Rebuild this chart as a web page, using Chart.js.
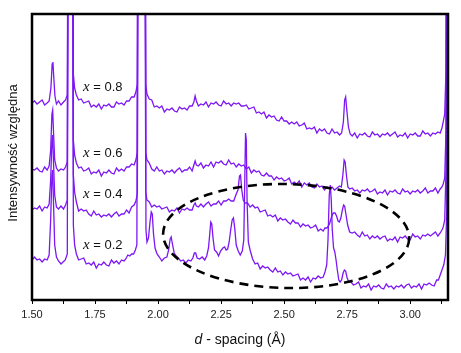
<!DOCTYPE html>
<html><head><meta charset="utf-8">
<script src="https://cdn.jsdelivr.net/npm/chart.js@4"></script>
<style>html,body{margin:0;padding:0;background:#fff}canvas{display:block}</style>
</head><body>
<canvas id="c" width="461" height="353"></canvas>
<script>
// d-spacing (Å) vs relative intensity (arbitrary units, stacked traces)
const seriesNames = ['x = 0.8', 'x = 0.6', 'x = 0.4', 'x = 0.2'];
const tickLabels = ['1.50', '1.75', '2.00', '2.25', '2.50', '2.75', '3.00'];

const trace08 = [[1.500,197],[1.510,199],[1.520,196],[1.530,198],[1.540,200],[1.550,195],[1.560,197],[1.568,199],[1.575,212],[1.580,236],[1.583,238],[1.586,224],[1.591,204],[1.597,196],[1.605,199],[1.615,195],[1.625,198],[1.633,200],[1.640,205],[1.645,600],[1.660,600],[1.664,226],[1.669,212],[1.676,205],[1.685,200],[1.695,201],[1.705,197],[1.715,198],[1.725,199],[1.735,193],[1.745,195],[1.755,193],[1.765,196],[1.775,191],[1.785,195],[1.795,194],[1.805,196],[1.815,193],[1.825,193],[1.835,198],[1.845,196],[1.855,197],[1.865,195],[1.875,199],[1.885,199],[1.895,203],[1.905,203],[1.912,208],[1.918,216],[1.922,600],[1.947,600],[1.951,216],[1.956,206],[1.965,201],[1.975,200],[1.985,193],[1.995,194],[2.005,192],[2.015,194],[2.025,188],[2.035,191],[2.045,190],[2.055,192],[2.065,189],[2.075,188],[2.085,193],[2.095,191],[2.105,192],[2.115,190],[2.125,194],[2.135,194],[2.142,198],[2.147,204],[2.152,199],[2.160,194],[2.170,196],[2.180,195],[2.190,198],[2.200,193],[2.210,197],[2.220,196],[2.230,198],[2.240,195],[2.250,194],[2.260,199],[2.270,196],[2.280,197],[2.290,194],[2.300,197],[2.310,196],[2.320,197],[2.330,194],[2.340,194],[2.350,195],[2.360,191],[2.370,192],[2.380,193],[2.390,187],[2.400,188],[2.410,186],[2.420,188],[2.430,182],[2.440,185],[2.450,183],[2.460,184],[2.470,180],[2.480,179],[2.490,183],[2.500,179],[2.510,179],[2.520,176],[2.530,178],[2.540,176],[2.550,178],[2.560,174],[2.570,175],[2.580,177],[2.590,171],[2.600,172],[2.610,171],[2.620,173],[2.630,167],[2.640,171],[2.650,169],[2.660,171],[2.670,167],[2.680,166],[2.690,171],[2.700,167],[2.710,168],[2.720,165],[2.728,167],[2.735,178],[2.740,200],[2.744,203],[2.749,189],[2.755,173],[2.762,166],[2.770,164],[2.780,167],[2.790,162],[2.800,166],[2.810,165],[2.820,167],[2.830,164],[2.840,163],[2.850,168],[2.860,165],[2.870,166],[2.880,163],[2.890,166],[2.900,165],[2.910,167],[2.920,164],[2.930,166],[2.940,168],[2.950,163],[2.960,165],[2.970,164],[2.980,167],[2.990,162],[3.000,166],[3.010,165],[3.020,167],[3.030,164],[3.040,164],[3.050,169],[3.060,166],[3.070,167],[3.080,164],[3.090,167],[3.100,166],[3.110,168],[3.119,167],[3.126,172],[3.131,178],[3.137,186],[3.142,230],[3.147,600],[3.151,600]];

const trace06 = [[1.500,131],[1.510,130],[1.520,132],[1.530,129],[1.540,128],[1.550,133],[1.560,130],[1.568,134],[1.574,150],[1.579,186],[1.582,190],[1.585,170],[1.590,140],[1.597,132],[1.605,129],[1.615,131],[1.625,130],[1.633,133],[1.640,138],[1.645,600],[1.660,600],[1.664,160],[1.669,145],[1.676,137],[1.685,132],[1.695,133],[1.705,129],[1.715,130],[1.725,132],[1.735,126],[1.745,128],[1.755,127],[1.765,130],[1.775,124],[1.785,128],[1.795,127],[1.805,130],[1.815,127],[1.825,126],[1.835,132],[1.845,129],[1.855,131],[1.865,129],[1.875,133],[1.885,133],[1.895,136],[1.905,135],[1.912,140],[1.918,148],[1.922,600],[1.947,600],[1.951,148],[1.956,140],[1.965,137],[1.975,131],[1.985,129],[1.995,133],[2.005,129],[2.015,130],[2.025,126],[2.035,129],[2.045,128],[2.055,130],[2.065,127],[2.075,130],[2.085,132],[2.095,128],[2.105,130],[2.115,130],[2.125,133],[2.135,129],[2.142,135],[2.147,139],[2.152,135],[2.160,134],[2.170,137],[2.180,132],[2.190,135],[2.200,134],[2.210,138],[2.220,133],[2.230,138],[2.240,137],[2.250,139],[2.260,136],[2.270,135],[2.280,140],[2.290,136],[2.300,137],[2.310,133],[2.320,136],[2.330,134],[2.340,135],[2.350,131],[2.360,133],[2.370,127],[2.380,130],[2.390,128],[2.400,129],[2.410,125],[2.420,124],[2.430,127],[2.440,124],[2.450,124],[2.460,120],[2.470,123],[2.480,121],[2.490,122],[2.500,119],[2.510,120],[2.520,122],[2.530,116],[2.540,118],[2.550,116],[2.560,119],[2.570,113],[2.580,117],[2.590,115],[2.600,117],[2.610,113],[2.620,112],[2.630,116],[2.640,113],[2.650,114],[2.660,110],[2.670,113],[2.680,112],[2.690,113],[2.700,110],[2.710,112],[2.720,114],[2.727,113],[2.733,125],[2.738,140],[2.742,138],[2.747,125],[2.753,113],[2.760,111],[2.770,112],[2.780,109],[2.790,110],[2.800,107],[2.810,110],[2.820,109],[2.830,111],[2.840,108],[2.850,109],[2.860,111],[2.870,106],[2.880,108],[2.890,107],[2.900,110],[2.910,105],[2.920,109],[2.930,108],[2.940,110],[2.950,107],[2.960,106],[2.970,111],[2.980,108],[2.990,109],[3.000,106],[3.010,109],[3.020,108],[3.030,110],[3.040,107],[3.050,109],[3.060,112],[3.070,107],[3.080,109],[3.090,109],[3.100,112],[3.110,107],[3.119,111],[3.126,113],[3.131,116],[3.137,122],[3.142,170],[3.147,600],[3.151,600]];

const trace04 = [[1.500,90],[1.510,92],[1.520,91],[1.530,94],[1.540,89],[1.550,93],[1.560,92],[1.568,96],[1.574,120],[1.579,160],[1.582,165],[1.585,140],[1.590,105],[1.597,93],[1.605,91],[1.615,94],[1.625,91],[1.633,95],[1.640,100],[1.645,600],[1.660,600],[1.664,125],[1.669,108],[1.676,98],[1.685,89],[1.695,91],[1.705,89],[1.715,90],[1.725,86],[1.735,84],[1.745,89],[1.755,85],[1.765,86],[1.775,83],[1.785,85],[1.795,84],[1.805,86],[1.815,83],[1.825,86],[1.835,88],[1.845,84],[1.855,86],[1.865,86],[1.875,90],[1.885,87],[1.895,93],[1.905,95],[1.912,99],[1.918,106],[1.922,600],[1.947,600],[1.951,108],[1.956,100],[1.965,98],[1.975,93],[1.985,95],[1.995,93],[2.005,94],[2.015,91],[2.025,92],[2.035,93],[2.045,88],[2.055,90],[2.065,89],[2.075,92],[2.085,87],[2.095,91],[2.105,90],[2.115,92],[2.125,90],[2.135,90],[2.142,95],[2.147,97],[2.152,94],[2.160,93],[2.170,96],[2.180,93],[2.190,96],[2.200,98],[2.210,94],[2.220,96],[2.230,96],[2.240,99],[2.250,95],[2.260,99],[2.270,99],[2.280,101],[2.290,99],[2.300,99],[2.310,106],[2.317,110],[2.323,124],[2.327,125],[2.332,110],[2.338,100],[2.345,97],[2.355,97],[2.365,93],[2.375,95],[2.385,92],[2.395,93],[2.405,88],[2.415,89],[2.425,90],[2.435,84],[2.445,85],[2.455,83],[2.465,85],[2.475,79],[2.485,82],[2.495,80],[2.505,81],[2.515,78],[2.525,76],[2.535,80],[2.545,77],[2.555,77],[2.565,73],[2.575,76],[2.585,74],[2.595,75],[2.605,72],[2.615,73],[2.625,75],[2.635,69],[2.645,71],[2.655,69],[2.662,72],[2.670,72],[2.680,76],[2.688,83],[2.695,87],[2.702,87],[2.708,84],[2.714,79],[2.719,78],[2.725,82],[2.731,90],[2.736,95],[2.740,94],[2.745,86],[2.752,75],[2.760,68],[2.770,67],[2.780,68],[2.790,65],[2.800,63],[2.810,68],[2.820,64],[2.830,65],[2.840,61],[2.850,64],[2.860,62],[2.870,64],[2.880,61],[2.890,63],[2.900,64],[2.910,59],[2.920,61],[2.930,60],[2.940,63],[2.950,58],[2.960,63],[2.970,62],[2.980,64],[2.990,61],[3.000,60],[3.010,66],[3.020,63],[3.030,64],[3.040,61],[3.050,65],[3.060,64],[3.070,66],[3.080,64],[3.090,66],[3.100,68],[3.110,64],[3.119,67],[3.126,70],[3.131,73],[3.137,80],[3.142,130],[3.147,600],[3.151,600]];

const trace02 = [[1.500,40],[1.510,43],[1.520,40],[1.530,41],[1.540,38],[1.550,41],[1.560,40],[1.568,45],[1.574,80],[1.579,125],[1.582,130],[1.585,100],[1.590,55],[1.597,43],[1.605,39],[1.615,36],[1.623,38],[1.632,40],[1.640,46],[1.645,600],[1.660,600],[1.664,75],[1.669,55],[1.676,46],[1.685,40],[1.695,41],[1.705,42],[1.715,36],[1.725,37],[1.735,35],[1.745,38],[1.755,32],[1.765,36],[1.775,35],[1.785,38],[1.795,35],[1.805,34],[1.815,40],[1.825,37],[1.835,39],[1.845,36],[1.855,40],[1.865,39],[1.872,41],[1.880,45],[1.888,44],[1.895,46],[1.903,46],[1.910,50],[1.916,55],[1.921,600],[1.948,600],[1.952,70],[1.956,58],[1.962,62],[1.968,78],[1.973,88],[1.977,86],[1.982,66],[1.988,52],[1.996,46],[2.005,43],[2.015,39],[2.025,42],[2.035,43],[2.042,50],[2.048,61],[2.052,63],[2.057,56],[2.064,47],[2.072,44],[2.080,42],[2.090,39],[2.100,40],[2.110,37],[2.120,40],[2.130,39],[2.138,42],[2.144,47],[2.149,47],[2.155,42],[2.165,41],[2.175,43],[2.185,40],[2.193,44],[2.200,52],[2.205,66],[2.209,78],[2.213,76],[2.218,62],[2.224,50],[2.232,48],[2.240,44],[2.248,49],[2.257,52],[2.264,53],[2.270,50],[2.276,51],[2.282,58],[2.288,70],[2.294,80],[2.299,82],[2.304,72],[2.310,55],[2.318,49],[2.326,45],[2.334,49],[2.340,60],[2.344,120],[2.347,167],[2.350,160],[2.353,100],[2.358,58],[2.365,50],[2.375,41],[2.385,36],[2.395,37],[2.405,31],[2.415,34],[2.425,32],[2.435,33],[2.445,30],[2.455,28],[2.465,32],[2.475,28],[2.485,29],[2.495,25],[2.505,28],[2.515,26],[2.525,27],[2.535,24],[2.545,25],[2.555,26],[2.565,20],[2.575,22],[2.585,20],[2.595,23],[2.605,18],[2.615,22],[2.625,21],[2.635,24],[2.645,22],[2.655,23],[2.662,28],[2.669,35],[2.674,60],[2.679,105],[2.683,115],[2.687,100],[2.691,70],[2.696,52],[2.701,48],[2.706,40],[2.711,30],[2.717,20],[2.722,18],[2.728,20],[2.734,27],[2.739,30],[2.744,29],[2.750,22],[2.757,18],[2.765,18],[2.775,15],[2.785,16],[2.795,18],[2.805,12],[2.815,14],[2.825,13],[2.835,16],[2.845,10],[2.855,14],[2.865,13],[2.875,15],[2.885,12],[2.895,11],[2.905,16],[2.915,13],[2.925,14],[2.935,11],[2.945,14],[2.955,13],[2.965,15],[2.975,12],[2.985,15],[2.995,16],[3.005,12],[3.015,14],[3.025,13],[3.035,16],[3.045,11],[3.055,16],[3.065,15],[3.075,17],[3.085,15],[3.095,14],[3.105,20],[3.112,20],[3.119,25],[3.126,30],[3.133,35],[3.140,45],[3.145,90],[3.148,600],[3.151,600]];

// label anchors in data coordinates [d, intensity]
const labelAnchors = [[1.702,213],[1.702,147],[1.702,106],[1.702,55]];
// highlighted region (ellipse) in data coordinates
const regionCenter = [2.508, 64];
const regionRadius = [0.488, 52];

const LINE = 'rgb(124,22,245)';
const toXY = arr => arr.map(p => ({x: p[0], y: p[1]}));

const deco = {
  id: 'deco',
  afterDraw(chart) {
    const {ctx, chartArea: a, scales: {x, y}} = chart;
    ctx.save();
    ctx.fillStyle = '#111';
    ctx.textBaseline = 'middle';
    seriesNames.forEach((name, i) => {
      const px = x.getPixelForValue(labelAnchors[i][0]);
      const py = y.getPixelForValue(labelAnchors[i][1]);
      ctx.font = 'italic 15px "Liberation Serif"';
      ctx.textAlign = 'left';
      const v = name.slice(0, 1);
      ctx.fillText(v, px, py);
      const w = ctx.measureText(v).width;
      ctx.font = '13px "Liberation Sans"';
      ctx.fillText(name.slice(1), px + w, py);
    });
    const cx = x.getPixelForValue(regionCenter[0]);
    const cy = y.getPixelForValue(regionCenter[1]);
    const rx = x.getPixelForValue(regionCenter[0] + regionRadius[0]) - cx;
    const ry = cy - y.getPixelForValue(regionCenter[1] + regionRadius[1]);
    ctx.beginPath();
    ctx.ellipse(cx, cy, rx, ry, 0.02, 0, Math.PI * 2);
    ctx.setLineDash([9, 6]);
    ctx.lineWidth = 2.6;
    ctx.strokeStyle = '#000';
    ctx.stroke();
    ctx.setLineDash([]);
    ctx.lineWidth = 2.5;
    ctx.strokeRect(a.left, a.top, a.right - a.left, a.bottom - a.top);
    ctx.fillStyle = '#111';
    ctx.textBaseline = 'middle';
    ctx.textAlign = 'left';
    const t1 = 'd', t2 = ' - spacing (Å)';
    ctx.font = 'italic 14px "Liberation Sans"';
    const w1 = ctx.measureText(t1).width;
    ctx.font = '14px "Liberation Sans"';
    const w2 = ctx.measureText(t2).width;
    const sx = (a.left + a.right) / 2 - (w1 + w2) / 2;
    ctx.font = 'italic 14px "Liberation Sans"';
    ctx.fillText(t1, sx, 340);
    ctx.font = '14px "Liberation Sans"';
    ctx.fillText(t2, sx + w1, 340);
    ctx.translate(13, (a.top + a.bottom) / 2 - 4);
    ctx.rotate(-Math.PI / 2);
    ctx.textAlign = 'center';
    ctx.font = '13px "Liberation Sans"';
    ctx.fillText('Intensywność względna', 0, 0);
    ctx.restore();
  }
};

const traces = [trace08, trace06, trace04, trace02];
new Chart(document.getElementById('c'), {
  type: 'line',
  data: {
    datasets: traces.map((t, i) => ({
      label: seriesNames[i],
      data: toXY(t),
      borderColor: LINE,
      borderWidth: 1.3,
      pointRadius: 0,
      tension: 0,
      fill: false
    }))
  },
  options: {
    responsive: false,
    animation: false,
    devicePixelRatio: 1,
    layout: {padding: {left: 32, right: 13, top: 14, bottom: 0}},
    plugins: {legend: {display: false}, tooltip: {enabled: false}},
    scales: {
      x: {
        type: 'linear', min: 1.5, max: 3.15,
        afterFit: s => { s.height = 53; },
        border: {display: true, color: '#000', width: 2},
        grid: {display: true, drawOnChartArea: false, drawTicks: true, tickLength: 4, color: '#000', lineWidth: 1},
        ticks: {
          stepSize: 0.125, includeBounds: false, autoSkip: false, maxRotation: 0,
          padding: 4, color: '#222',
          font: {family: '"Liberation Sans"', size: 11},
          callback: v => { const s = v.toFixed(2); return tickLabels.includes(s) ? s : ''; }
        }
      },
      y: {type: 'linear', min: 0, max: 286, display: false}
    }
  },
  plugins: [deco]
});
</script>
</body></html>
